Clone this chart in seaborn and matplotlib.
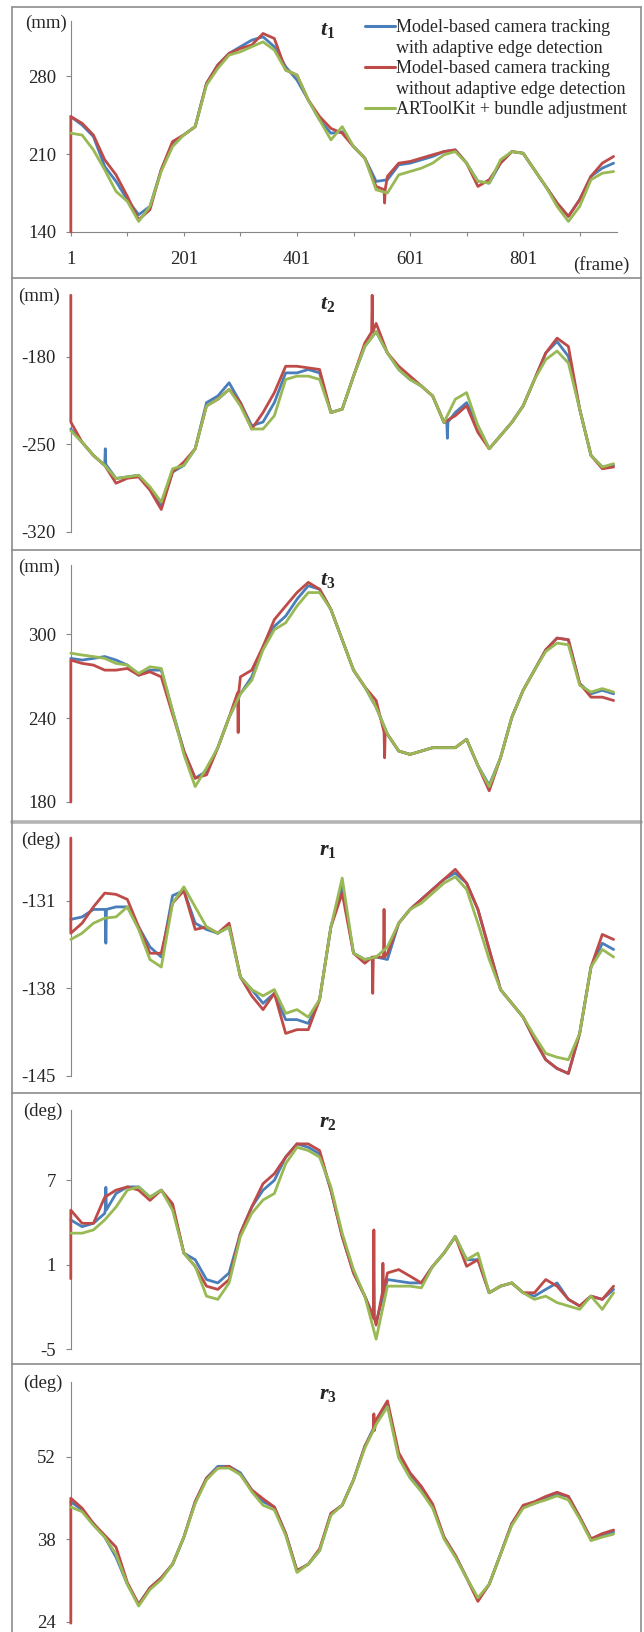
import matplotlib
matplotlib.use("Agg")
import matplotlib.pyplot as plt
from matplotlib.lines import Line2D
import pandas as pd
import seaborn as sns

frames = list(range(1, 962, 20))

t1_blue = [243.6, 236.0, 225.7, 198.8, 185.4, 169.0, 155.5, 163.0, 196.0, 219.7,
           227.2, 234.6, 273.4, 289.9, 300.3, 306.3, 312.2, 315.2, 306.3, 288.4,
           276.4, 258.5, 240.6, 228.7, 230.0, 216.7, 206.3, 185.4, 186.9, 200.3,
           201.8, 204.8, 207.8, 212.2, 213.7, 201.8, 185.4, 183.9, 201.8, 212.2,
           210.7, 195.8, 180.9, 166.0, 154.0, 169.0, 190.0, 197.3, 201.8]
t1_red = [243.6, 237.6, 227.0, 204.8, 191.3, 172.0, 151.0, 160.0, 196.0, 221.2,
          227.2, 234.6, 273.4, 289.9, 300.3, 304.8, 307.8, 318.2, 313.7, 285.4,
          280.9, 258.5, 243.6, 233.0, 228.7, 216.7, 206.3, 180.9, 190.0, 201.8,
          203.3, 206.3, 209.3, 212.2, 213.7, 201.8, 180.9, 186.9, 201.8, 212.2,
          210.7, 195.8, 180.9, 166.0, 154.0, 169.0, 190.0, 201.8, 207.8]
t1_green = [228.7, 227.0, 213.7, 195.8, 176.4, 167.5, 149.5, 163.0, 194.5, 216.7,
            227.2, 234.6, 271.9, 286.9, 298.8, 301.8, 306.3, 310.7, 303.3, 285.4,
            280.9, 258.5, 240.6, 222.7, 234.6, 216.7, 206.3, 177.9, 175.0, 191.3,
            194.3, 197.3, 201.8, 209.3, 212.2, 201.8, 185.4, 183.9, 204.8, 212.2,
            210.7, 195.8, 180.9, 163.0, 149.5, 163.0, 186.9, 192.8, 194.3]

t2_blue = [-237.6, -248.2, -258.7, -266.7, -277.2, -275.9, -274.6, -285.2, -299.7, -272.0,
           -266.7, -253.4, -216.5, -211.2, -200.6, -216.5, -235.0, -232.0, -216.5, -192.7,
           -192.7, -190.0, -192.7, -224.4, -221.7, -195.3, -171.5, -159.7, -176.8, -190.0,
           -198.0, -203.2, -211.2, -232.3, -224.4, -216.5, -235.0, -253.4, -242.9, -232.3,
           -219.1, -198.0, -176.8, -167.6, -179.5, -221.7, -258.7, -268.0, -266.7]
t2_red = [-232.0, -248.2, -258.7, -266.7, -281.0, -277.0, -275.9, -286.5, -302.0, -272.0,
          -264.0, -253.4, -219.1, -213.8, -205.9, -216.5, -237.6, -224.4, -208.5, -187.4,
          -187.4, -188.7, -190.0, -224.4, -221.7, -195.3, -168.8, -153.1, -176.8, -187.4,
          -195.3, -203.2, -211.2, -232.3, -227.0, -219.0, -240.3, -253.4, -242.9, -232.3,
          -219.1, -198.0, -176.8, -164.9, -171.5, -221.7, -258.7, -269.4, -268.0]
t2_green = [-239.0, -248.2, -258.7, -266.7, -277.2, -275.9, -274.6, -283.9, -296.0, -269.4,
            -266.7, -253.4, -219.1, -213.8, -205.9, -219.1, -237.6, -237.6, -227.0, -198.0,
            -195.3, -195.3, -197.9, -224.4, -221.7, -195.3, -171.5, -159.7, -176.8, -190.0,
            -198.0, -203.2, -211.2, -232.3, -213.8, -208.5, -235.0, -253.4, -242.9, -232.3,
            -219.1, -198.0, -182.1, -175.2, -184.8, -221.7, -258.7, -268.0, -265.4]

t3_blue = [282.6, 281.4, 282.6, 283.9, 281.4, 277.8, 270.6, 274.2, 274.2, 245.0,
           216.4, 197.0, 202.0, 218.8, 240.5, 257.3, 269.4, 291.0, 305.5, 312.8,
           324.8, 334.5, 332.0, 317.6, 295.9, 274.2, 262.2, 247.7, 228.4, 216.4,
           214.0, 216.4, 218.8, 218.8, 218.8, 224.8, 206.0, 192.0, 211.6, 240.5,
           259.8, 274.2, 288.7, 297.1, 295.9, 264.6, 257.3, 259.8, 257.3]
t3_red = [281.4, 279.0, 277.8, 274.2, 274.2, 275.4, 270.6, 273.0, 269.4, 242.6,
          216.4, 197.0, 199.4, 218.8, 240.5, 269.4, 274.2, 291.0, 310.3, 320.0,
          329.6, 336.9, 332.0, 317.6, 295.9, 274.2, 262.2, 252.5, 228.4, 216.4,
          214.0, 216.4, 218.8, 218.8, 218.8, 224.8, 206.0, 188.0, 211.6, 240.5,
          259.8, 274.2, 288.7, 297.1, 295.9, 264.6, 254.9, 254.9, 252.5]
t3_green = [286.3, 285.0, 283.9, 282.6, 279.0, 277.8, 271.8, 276.6, 275.4, 245.0,
            214.0, 191.0, 204.3, 218.8, 240.5, 257.3, 266.9, 288.7, 303.1, 308.0,
            320.0, 329.6, 329.6, 317.6, 295.9, 274.2, 262.2, 247.7, 228.4, 216.4,
            214.0, 216.4, 218.8, 218.8, 218.8, 224.8, 206.0, 191.0, 211.6, 240.5,
            259.8, 274.2, 287.5, 293.5, 292.3, 263.4, 258.5, 261.0, 258.5]

r1_blue = [-132.5, -132.3, -131.7, -131.7, -131.5, -131.5, -133.1, -134.7, -135.5, -130.6,
           -130.2, -132.8, -133.3, -133.6, -133.1, -137.1, -138.1, -139.2, -138.4, -140.5,
           -140.5, -140.8, -138.9, -133.1, -129.9, -135.2, -135.7, -135.5, -135.7, -132.8,
           -131.7, -130.9, -130.1, -129.3, -128.8, -129.6, -131.7, -134.9, -138.1, -139.2,
           -140.3, -142.1, -143.7, -144.4, -144.8, -141.6, -136.3, -134.4, -134.9]
r1_red = [-133.6, -132.8, -131.5, -130.4, -130.5, -130.9, -133.1, -135.2, -135.2, -131.2,
          -130.2, -133.3, -133.1, -133.6, -132.8, -137.1, -138.6, -139.7, -138.4, -141.6,
          -141.3, -141.3, -138.9, -133.1, -130.4, -135.2, -136.0, -135.5, -135.2, -132.8,
          -131.7, -130.9, -130.1, -129.3, -128.5, -129.6, -131.7, -134.9, -138.1, -139.2,
          -140.3, -142.1, -143.7, -144.4, -144.8, -141.6, -136.3, -133.7, -134.1]
r1_green = [-134.1, -133.6, -132.8, -132.4, -132.3, -131.5, -133.3, -135.7, -136.3, -131.2,
            -129.9, -131.5, -133.1, -133.6, -133.1, -137.1, -138.1, -138.6, -138.1, -140.0,
            -139.7, -140.3, -138.9, -133.1, -129.2, -135.2, -135.7, -135.5, -134.7, -132.8,
            -131.7, -131.2, -130.4, -129.6, -129.1, -130.1, -132.8, -135.7, -138.1, -139.2,
            -140.3, -141.8, -143.2, -143.5, -143.7, -141.6, -136.3, -134.9, -135.5]

r2_blue = [4.18, 3.70, 3.94, 4.65, 6.06, 6.53, 6.53, 5.80, 6.30, 5.10,
           1.82, 1.35, -0.06, -0.30, 0.41, 3.24, 5.10, 6.30, 7.00, 8.65,
           9.59, 9.35, 8.88, 6.30, 3.00, 0.41, -1.24, -3.10, -0.06, -0.18,
           -0.30, -0.30, 0.88, 1.82, 3.00, 1.35, 1.35, -1.00, -0.53, -0.30,
           -1.00, -1.24, -0.76, -0.30, -1.47, -1.94, -1.24, -1.47, -0.76]
r2_red = [4.88, 3.94, 3.94, 5.80, 6.30, 6.53, 6.30, 5.57, 6.30, 5.33,
          1.82, 0.88, -0.53, -0.76, -0.06, 3.24, 5.10, 6.76, 7.47, 8.65,
          9.59, 9.59, 9.12, 6.30, 3.00, 0.41, -1.24, -3.30, 0.41, 0.65,
          0.18, -0.30, 0.88, 1.82, 3.00, 0.88, 1.35, -1.00, -0.53, -0.30,
          -1.00, -1.00, -0.06, -0.53, -1.47, -1.94, -1.24, -1.47, -0.53]
r2_green = [3.24, 3.24, 3.47, 4.18, 5.10, 6.30, 6.53, 5.80, 6.30, 4.88,
            1.82, 0.88, -1.24, -1.47, -0.30, 3.00, 4.65, 5.60, 6.06, 8.18,
            9.35, 9.12, 8.65, 6.53, 3.24, 0.65, -1.24, -4.30, -0.53, -0.53,
            -0.53, -0.65, 0.88, 1.82, 3.00, 1.35, 1.82, -1.00, -0.53, -0.30,
            -1.00, -1.47, -1.24, -1.70, -1.94, -2.18, -1.24, -2.18, -1.00]

r3_blue = [44.4, 43.0, 40.7, 38.4, 35.0, 30.4, 27.0, 29.8, 31.5, 33.8,
           38.4, 44.4, 48.4, 50.4, 50.4, 49.3, 46.4, 44.4, 43.5, 39.0,
           32.7, 33.8, 36.1, 42.4, 43.8, 48.1, 53.8, 57.8, 61.0, 52.1,
           48.7, 46.4, 43.5, 38.4, 35.3, 31.5, 27.8, 30.4, 35.5, 40.7,
           43.5, 44.1, 45.0, 45.7, 45.3, 41.8, 38.1, 38.7, 39.3]
r3_red = [45.0, 43.3, 40.7, 38.7, 36.7, 30.7, 27.0, 29.8, 31.5, 33.8,
          38.4, 44.4, 48.4, 50.1, 50.4, 49.0, 46.4, 44.9, 43.5, 39.0,
          32.7, 33.8, 36.4, 42.4, 43.8, 48.1, 53.8, 58.3, 61.5, 52.7,
          49.3, 47.0, 44.0, 38.4, 35.3, 31.5, 27.5, 30.4, 35.5, 40.7,
          43.8, 44.4, 45.3, 46.0, 45.3, 41.8, 38.1, 39.0, 39.6]
r3_green = [43.5, 42.7, 40.4, 38.4, 35.5, 30.4, 26.7, 29.5, 31.2, 33.8,
            38.4, 44.1, 48.1, 50.1, 50.1, 49.0, 46.1, 43.8, 43.0, 38.7,
            32.4, 33.8, 36.1, 42.1, 43.8, 48.1, 53.5, 57.5, 60.5, 51.8,
            48.4, 46.1, 43.3, 38.1, 35.0, 31.5, 28.1, 30.4, 35.5, 40.4,
            43.3, 44.1, 44.7, 45.4, 44.7, 41.5, 37.8, 38.4, 38.9]

# red value at frame 1 (vertical start spike) and narrow spikes: (frame, base, peak)
red_start = {"t1": 140.0, "t2": -130.6, "t3": 180.0, "r1": -126.0, "r2": 0.0, "r3": 23.8}
red_spikes = {
    "t1": [(556, 178.0, 166.0)],
    "t2": [(534, -160.0, -130.6)],
    "t3": [(297, 258.0, 229.6), (556, 230.0, 211.6)],
    "r1": [(535, -135.5, -138.4), (555, -135.5, -131.7)],
    "r2": [(537, -2.8, 3.47), (553, -1.0, 1.1)],
    "r3": [(537, 56.5, 59.3)],
}
blue_spikes = {
    "t2": [(62, -266.0, -253.4), (667, -232.0, -245.0)],
    "r1": [(63, -131.7, -134.4)],
    "r2": [(63, 4.9, 6.5)],
}

names = ["t1", "t2", "t3", "r1", "r2", "r3"]
units = ["(mm)", "(mm)", "(mm)", "(deg)", "(deg)", "(deg)"]
yticks = [[140, 210, 280], [-320, -250, -180], [180, 240, 300],
          [-145, -138, -131], [-5, 1, 7], [24, 38, 52]]
ylims = [(140, 329.4), (-320, -130.4), (180, 349.3),
         (-145, -126.0), (-5, 12.0), (24, 64.7)]
series_data = {
    "t1": (t1_blue, t1_red, t1_green), "t2": (t2_blue, t2_red, t2_green),
    "t3": (t3_blue, t3_red, t3_green), "r1": (r1_blue, r1_red, r1_green),
    "r2": (r2_blue, r2_red, r2_green), "r3": (r3_blue, r3_red, r3_green),
}
labels = ["with", "without", "artk"]
colors = {"with": "#4A7EBB", "without": "#BE4B48", "artk": "#98B954"}


def build(values, start=None, spikes=()):
    xs, ys = list(frames), list(values)
    for f, base, peak in spikes:
        i = next(k for k, x in enumerate(xs) if x > f)
        xs[i:i] = [f - 1, f, f + 1]
        ys[i:i] = [base, peak, base]
    if start is not None:
        xs.insert(0, xs[0])
        ys.insert(0, start)
    return xs, ys


sns.set_style("white")
plt.rcParams["font.family"] = ["Liberation Serif", "DejaVu Serif"]
plt.rcParams["mathtext.fontset"] = "custom"
plt.rcParams["mathtext.it"] = "Liberation Serif:italic:bold"
plt.rcParams["mathtext.rm"] = "Liberation Serif:bold"

W, H = 644, 1632
fig = plt.figure(figsize=(W / 100, H / 100), dpi=100)
fig.patch.set_facecolor("white")

# axes box in pixels: (top, bottom); x from 70.8 to 617
boxes = [(21, 232), (295, 532), (565, 802), (838, 1076), (1110, 1349), (1382, 1622)]
title_y = [30, 305, 580, 850, 1123, 1395]
unit_pos = [(67, 23), (60, 296), (60, 567), (61, 840), (63, 1111), (63, 1383)]
gray = "#868686"

for k, name in enumerate(names):
    top, bot = boxes[k]
    ax = fig.add_axes([70.8 / W, 1 - bot / H, (617 - 70.8) / W, (bot - top) / H])
    blue, red, green = series_data[name]
    parts = []
    for lab, vals in zip(labels, (blue, red, green)):
        if lab == "without":
            xs, ys = build(vals, red_start[name], red_spikes.get(name, []))
        elif lab == "with":
            xs, ys = build(vals, None, blue_spikes.get(name, []))
        else:
            xs, ys = build(vals)
        parts.append(pd.DataFrame({"frame": xs, "value": ys, "series": lab}))
    df = pd.concat(parts, ignore_index=True)
    sns.lineplot(data=df, x="frame", y="value", hue="series", hue_order=labels,
                 palette=colors, sort=False, estimator=None, legend=False,
                 linewidth=2.0, ax=ax)
    for ln in ax.get_lines():
        ln.set_zorder(3)
        ln.set_clip_on(False)
        ln.set_solid_joinstyle("round")
    ax.set_xlim(1, 967)
    ax.set_ylim(*ylims[k])
    ax.set_yticks(yticks[k])
    ax.set_yticklabels([str(v) for v in yticks[k]])
    ax.set_xlabel("")
    ax.set_ylabel("")
    for s in ["top", "right"]:
        ax.spines[s].set_visible(False)
    ax.spines["left"].set_color(gray)
    ax.spines["left"].set_linewidth(0.8)
    ax.tick_params(axis="y", direction="out", length=3.6, width=0.8, color=gray,
                   pad=7, labelsize=13.5, left=True)
    if k == 0:
        ax.spines["bottom"].set_color(gray)
        ax.spines["bottom"].set_linewidth(0.8)
        xt = list(range(1, 902, 100))
        ax.set_xticks(xt)
        ax.set_xticklabels([str(v) if (v - 1) % 200 == 0 else "" for v in xt])
        ax.tick_params(axis="x", direction="out", length=3, width=0.8, color=gray,
                       pad=11, labelsize=13.5, bottom=True)
    else:
        ax.spines["bottom"].set_visible(False)
        ax.set_xticks([])
    ax.patch.set_alpha(0)

    sub = name[1]
    fig.text(328 / W, 1 - title_y[k] / H, r"$\mathit{" + name[0] + r"}_{\mathit{" + sub + r"}}$",
             ha="center", va="center", fontsize=16)
    ux, uy = unit_pos[k]
    fig.text(ux / W, 1 - uy / H, units[k], ha="right", va="center", fontsize=13.5)

    if k == 0:
        handles = [Line2D([], [], color=colors["with"], lw=2.2),
                   Line2D([], [], color="none"),
                   Line2D([], [], color=colors["without"], lw=2.2),
                   Line2D([], [], color="none"),
                   Line2D([], [], color=colors["artk"], lw=2.2)]
        texts = ["Model-based camera tracking", "with adaptive edge detection",
                 "Model-based camera tracking", "without adaptive edge detection",
                 "ARToolKit + bundle adjustment"]
        ax.legend(handles, texts, loc="upper left", bbox_to_anchor=(365 / W, 1 - 19 / H),
                  bbox_transform=fig.transFigure, frameon=False, fontsize=13,
                  borderpad=0, borderaxespad=0, labelspacing=0.2,
                  handlelength=1.65, handletextpad=0.08)

fig.text(630 / W, 1 - 265 / H, "(frame)", ha="right", va="center", fontsize=13.5)

# panel frames
border = "#8c8c8c"
for y in [7, 278, 550, 1093, 1364]:
    fig.add_artist(Line2D([12.5 / W, 641 / W], [1 - y / H, 1 - y / H],
                          transform=fig.transFigure, color=border, lw=1.2))
fig.add_artist(Line2D([12.5 / W, 641 / W], [1 - 822 / H, 1 - 822 / H],
                      transform=fig.transFigure, color="#b4b4b4", lw=2.6))
for x in [12.5, 641]:
    fig.add_artist(Line2D([x / W, x / W], [1 - 7 / H, 0],
                          transform=fig.transFigure, color=border, lw=1.2))

fig.savefig("out.png", dpi=100, facecolor="white")
